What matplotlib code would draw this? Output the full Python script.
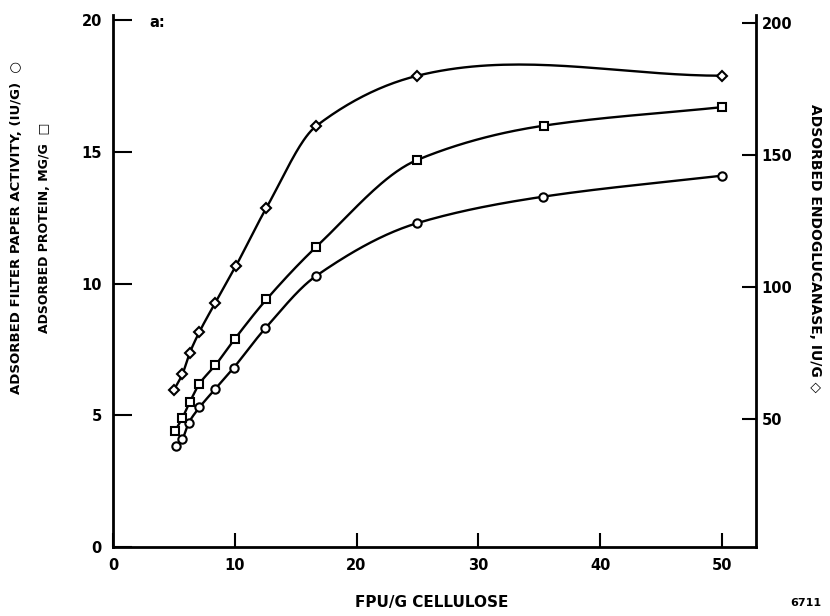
import numpy as np
import matplotlib.pyplot as plt

plt.rcParams['font.family'] = ['DejaVu Sans']
plt.rcParams['font.weight'] = 'bold'

# FPU/G cellulose (x) for each series
x_fpa = [5.2, 5.7, 6.2, 7.1, 8.4, 9.9, 12.5, 16.7, 25.0, 35.3, 50.0]
fpa = [3.85, 4.1, 4.7, 5.3, 6.0, 6.8, 8.3, 10.3, 12.3, 13.3, 14.1]      # IU/G, left axis

x_prot = [5.1, 5.7, 6.3, 7.1, 8.4, 10.0, 12.6, 16.7, 25.0, 35.4, 50.0]
prot = [4.4, 4.9, 5.5, 6.2, 6.9, 7.9, 9.4, 11.4, 14.7, 16.0, 16.7]      # MG/G, left axis

x_endo = [5.0, 5.7, 6.3, 7.1, 8.4, 10.1, 12.6, 16.7, 25.0, 50.0]
endo = [61, 67, 75, 83, 94, 108, 130, 161, 180, 180]                    # IU/G, right axis

xticks = [0, 10, 20, 30, 40, 50]
yticks_left = [0, 5, 10, 15, 20]
yticks_right = [50, 100, 150, 200]


def smooth(x, y, n=40):
    # cubic hermite through the points
    x = np.asarray(x, float)
    y = np.asarray(y, float)
    s = np.diff(y) / np.diff(x)
    m = np.empty_like(y)
    m[0], m[-1] = s[0], s[-1]
    for i in range(1, len(x) - 1):
        a, b = s[i-1], s[i]
        if a * b > 0:
            m[i] = 2 / (1/a + 1/b)
        else:
            m[i] = (a + b) / 2
    xs, ys = [], []
    t = np.linspace(0, 1, n)
    for i in range(len(x) - 1):
        h = x[i+1] - x[i]
        h00 = 2*t**3 - 3*t**2 + 1
        h10 = t**3 - 2*t**2 + t
        h01 = -2*t**3 + 3*t**2
        h11 = t**3 - t**2
        xs.append(x[i] + t*h)
        ys.append(h00*y[i] + h10*h*m[i] + h01*y[i+1] + h11*h*m[i+1])
    return np.concatenate(xs), np.concatenate(ys)


fig = plt.figure(figsize=(8.3, 6.16), dpi=100)
ax = fig.add_axes([113/830, 69/616, (756-113)/830, (547-15)/616])
ax2 = ax.twinx()

ax.set_xlim(0, 52.8)
ax.set_ylim(0, 20.2)
ax2.set_ylim(1.5, 203)

mk = dict(color='black', linestyle='none', markerfacecolor='white',
          markeredgecolor='black', markeredgewidth=1.5, markersize=6, zorder=3)

sx, sy = smooth(x_fpa, fpa)
ax.plot(sx, sy, color='black', lw=1.7)
ax.plot(x_fpa, fpa, marker='o', **mk)

sx, sy = smooth(x_prot, prot)
ax.plot(sx, sy, color='black', lw=1.7)
ax.plot(x_prot, prot, marker='s', **mk)

sx, sy = smooth(x_endo, endo)
ax2.plot(sx, sy, color='black', lw=1.7)
ax2.plot(x_endo, endo, marker='D', **dict(mk, markersize=5))

for a in (ax, ax2):
    a.spines['top'].set_visible(False)
    for s in a.spines.values():
        s.set_linewidth(2)
ax.spines['right'].set_visible(False)
ax2.spines['left'].set_visible(False)
ax2.spines['bottom'].set_visible(False)

ax.set_xticks(xticks)
ax.set_yticks(yticks_left)
ax2.set_yticks(yticks_right)
ax.tick_params(axis='y', direction='in', length=14, width=1.5, pad=8, labelsize=10.5)
ax.tick_params(axis='x', direction='in', length=10, width=1.5, pad=8, labelsize=10.5)
ax2.tick_params(axis='y', direction='in', length=10, width=1.5, pad=4, labelsize=10.5)

fig.text(17/830, 1 - 228/616, 'ADSORBED FILTER PAPER ACTIVITY, (IU/G)  \u25cb',
         rotation=90, ha='center', va='center', fontsize=9.5)
fig.text(45/830, 1 - 228/616, 'ADSORBED PROTEIN, MG/G  \u25a1',
         rotation=90, ha='center', va='center', fontsize=9)
fig.text(815/830, 1 - 248/616, 'ADSORBED ENDOGLUCANASE, IU/G \u25c7',
         rotation=270, ha='center', va='center', fontsize=10)
fig.text(432/830, 1 - 603/616, 'FPU/G CELLULOSE', ha='center', va='center', fontsize=11)
ax.text(3.0, 19.9, 'a:', fontsize=10.5, va='center')
fig.text(790/830, 1 - 598/616, '6711', fontsize=8, va='top')

fig.savefig('out.png', dpi=100)
